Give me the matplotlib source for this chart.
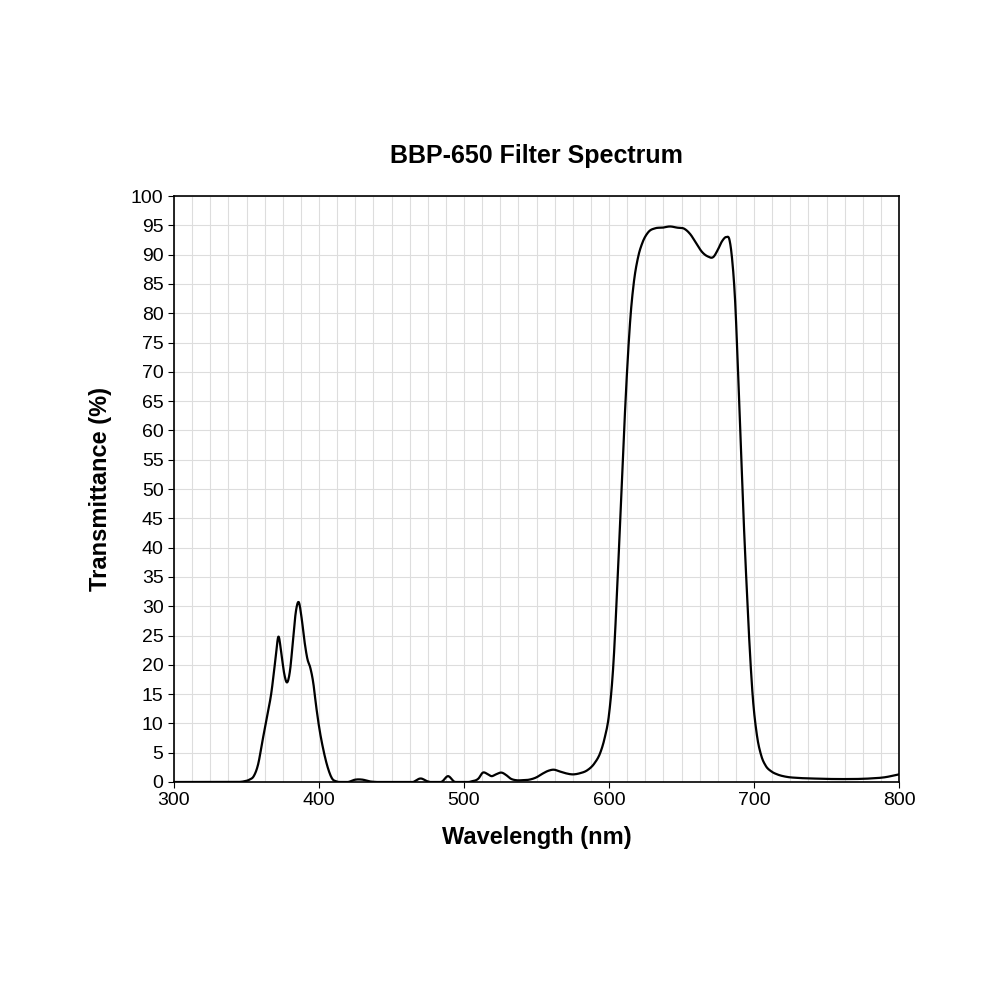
import matplotlib
matplotlib.use("Agg")
import matplotlib.pyplot as plt
import numpy as np
from matplotlib.ticker import MultipleLocator

wavelength = [300,320,340,348,352,355,358,361,364,367,370,372,374,376,378,380,382,384,386,388,390,392,394,396,398,400,403,406,409,412,416,420,425,430,435,440,465,470,475,485,489,493,505,510,513,516,519,522,526,529,532,536,540,545,550,554,558,562,566,570,575,580,585,590,594,597,600,603,606,609,612,615,617,620,623,627,632,637,642,647,652,656,660,664,668,672,675,678,681,683,685,687,689,691,693,695,697,699,702,705,708,712,716,722,730,740,760,780,790,800]
transmittance = [0,0,0,0.1,0.4,1,3,7,11,15,21,24.8,22,18.5,17,19,24,29,30.7,28,24,21,19.5,17,13,9.5,5.5,2.5,0.6,0.1,0,0,0.4,0.4,0.1,0,0,0.6,0.1,0.1,1,0.1,0.1,0.6,1.6,1.4,1,1.3,1.6,1.2,0.6,0.3,0.3,0.4,0.8,1.4,1.9,2.1,1.8,1.5,1.3,1.5,2,3.2,5,7.5,11.5,20,35,52,68,80,85,89.5,92,93.8,94.5,94.6,94.8,94.6,94.4,93.5,92,90.5,89.7,89.6,90.8,92.3,93,92.6,89,82,70,57,44,33,23,15,8,4.5,2.8,1.8,1.3,0.9,0.7,0.6,0.5,0.6,0.8,1.3]


def catmull_rom(x, y, n=12):
    x = np.asarray(x, float); y = np.asarray(y, float)
    m = np.gradient(y, x)
    xs, ys = [], []
    for i in range(len(x) - 1):
        h = x[i + 1] - x[i]
        t = np.linspace(0, 1, n, endpoint=False)
        h00 = 2*t**3 - 3*t**2 + 1; h10 = t**3 - 2*t**2 + t
        h01 = -2*t**3 + 3*t**2; h11 = t**3 - t**2
        xs.append(x[i] + t*h)
        ys.append(h00*y[i] + h10*h*m[i] + h01*y[i+1] + h11*h*m[i+1])
    xs.append([x[-1]]); ys.append([y[-1]])
    return np.concatenate(xs), np.clip(np.concatenate(ys), 0, None)

sx, sy = catmull_rom(wavelength, transmittance)

fig = plt.figure(figsize=(10, 10), dpi=100)
ax = fig.add_axes([0.174, 0.218, 0.725, 0.586])
ax.plot(sx, sy, color="black", lw=1.6)
ax.set_xlim(300, 800)
ax.set_ylim(0, 100)
ax.xaxis.set_major_locator(MultipleLocator(100))
ax.xaxis.set_minor_locator(MultipleLocator(12.5))
ax.yaxis.set_major_locator(MultipleLocator(5))
ax.grid(which="both", axis="x", color="#dddddd", lw=0.8)
ax.grid(which="major", axis="y", color="#dddddd", lw=0.8)
ax.tick_params(which="minor", length=0)
ax.tick_params(which="major", labelsize=14, length=4)
for s in ax.spines.values():
    s.set_linewidth(1.2)
ax.set_axisbelow(True)
ax.set_title("BBP-650 Filter Spectrum", fontsize=18, fontweight="bold", pad=24, family="Liberation Sans")
ax.set_xlabel("Wavelength (nm)", fontsize=17, fontweight="bold", family="Liberation Sans", labelpad=12)
ax.set_ylabel("Transmittance (%)", fontsize=17, fontweight="bold", family="Liberation Sans", labelpad=14)
for l in ax.get_xticklabels() + ax.get_yticklabels():
    l.set_family("Liberation Sans")
fig.savefig("out.png")
